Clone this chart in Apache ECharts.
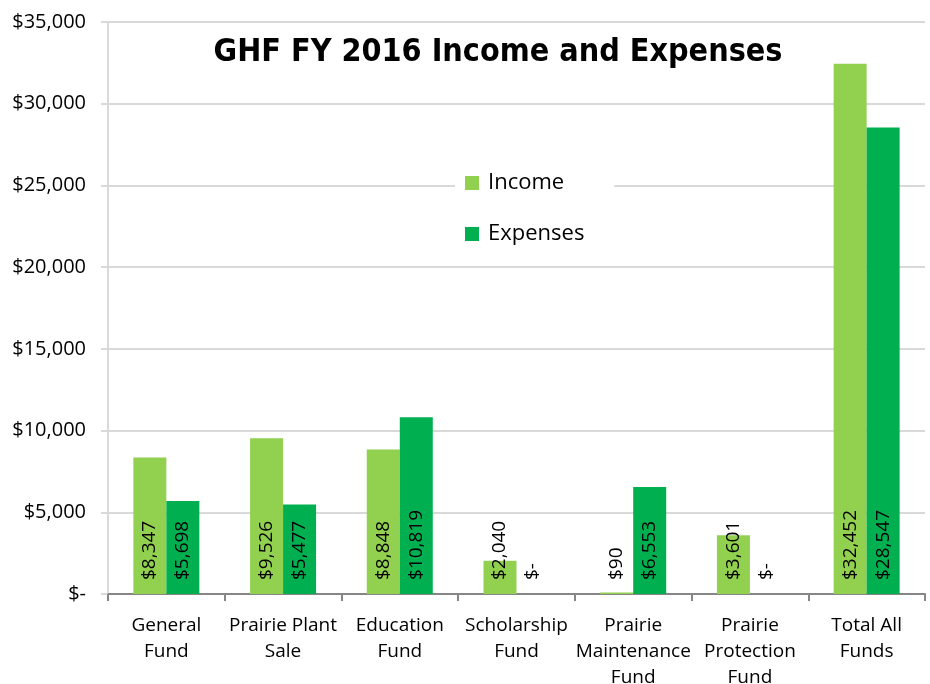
<!DOCTYPE html>
<html>
<head>
<meta charset="utf-8">
<script src="https://cdn.jsdelivr.net/npm/echarts@6/dist/echarts.min.js"></script>
<style>
  html, body { margin: 0; padding: 0; background: #fff; }
  #chart { width: 930px; height: 684px; }
</style>
</head>
<body>
<div id="chart"></div>
<script>
  // categories and values
  const categories = ['General\nFund', 'Prairie Plant\nSale', 'Education\nFund', 'Scholarship\nFund',
    'Prairie\nMaintenance\nFund', 'Prairie\nProtection\nFund', 'Total All\nFunds']
  const income = [8347, 9526, 8848, 2040, 90, 3601, 32452]
  const expenses = [5698, 5477, 10819, 0, 6553, 0, 28547]
  const yTicks = [0, 5000, 10000, 15000, 20000, 25000, 30000, 35000]

  const font = 'Open Sans, Liberation Sans, sans-serif'

  function money(v) {
    return v === 0 ? '$-' : '$' + v.toLocaleString('en-US')
  }

  const barLabel = {
    show: true,
    position: 'insideBottom',
    rotate: 90,
    align: 'left',
    verticalAlign: 'middle',
    distance: 14,
    color: '#000',
    fontFamily: font,
    fontSize: 19,
    formatter: p => money(p.value)
  }

  const chart = echarts.init(document.getElementById('chart'))
  chart.setOption({
    animation: false,
    title: {
      text: 'GHF FY 2016 Income and Expenses',
      left: 493,
      textAlign: 'center',
      top: 32,
      textStyle: {
        fontFamily: 'DejaVu Sans Condensed, Liberation Sans, sans-serif',
        fontWeight: 'bold',
        fontSize: 32,
        color: '#000'
      }
    },
    legend: {
      orient: 'vertical',
      left: 455,
      top: 166,
      itemWidth: 14,
      itemHeight: 14,
      itemGap: 29,
      padding: [6, 30, 6, 10],
      backgroundColor: '#fff',
      icon: 'rect',
      textStyle: { fontFamily: font, fontSize: 22, color: '#000', padding: [0, 0, 0, 4] },
      data: ['Income', 'Expenses']
    },
    grid: { left: 108, right: 5, top: 22, bottom: 90, outerBoundsMode: 'none' },
    xAxis: {
      type: 'category',
      data: categories,
      axisLine: { lineStyle: { color: '#868686', width: 2 } },
      axisTick: { show: true, length: 7, lineStyle: { color: '#868686', width: 2 } },
      axisLabel: {
        interval: 0,
        margin: 19,
        lineHeight: 26,
        fontFamily: font,
        fontSize: 19,
        color: '#000'
      }
    },
    yAxis: {
      type: 'value',
      min: yTicks[0],
      max: yTicks[yTicks.length - 1],
      interval: 5000,
      axisLine: { show: true, lineStyle: { color: '#d9d9d9', width: 2 } },
      axisTick: { show: true, length: 7, lineStyle: { color: '#d9d9d9', width: 2 } },
      splitLine: { lineStyle: { color: '#d9d9d9', width: 2 } },
      axisLabel: {
        margin: 22,
        fontFamily: font,
        fontSize: 20,
        color: '#000',
        formatter: v => money(v)
      }
    },
    series: [
      {
        name: 'Income',
        type: 'bar',
        data: income,
        barWidth: 33,
        barGap: '0%',
        itemStyle: { color: '#92d050' },
        label: barLabel
      },
      {
        name: 'Expenses',
        type: 'bar',
        data: expenses,
        barWidth: 33,
        itemStyle: { color: '#00b050' },
        label: barLabel
      }
    ]
  })
</script>
</body>
</html>
